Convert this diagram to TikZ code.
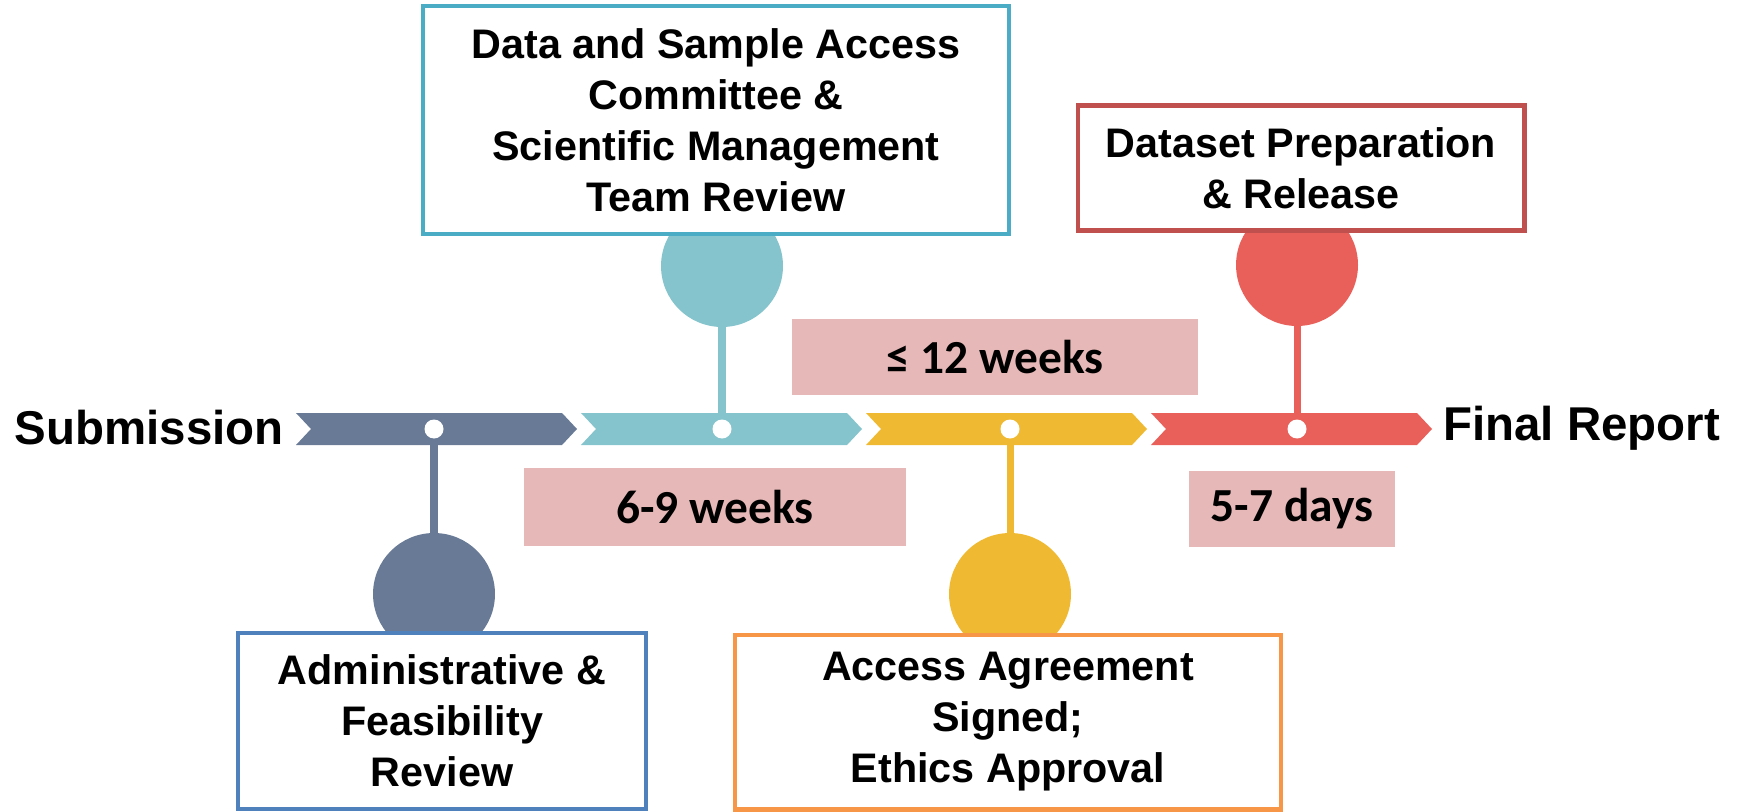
\documentclass[tikz,border=0pt]{standalone}
\usepackage{fontspec}
\setmainfont{Liberation Sans}
\newfontfamily\durfont{Carlito}
\usetikzlibrary{positioning}

\definecolor{slate}{HTML}{687A96}
\definecolor{teal}{HTML}{85C4CC}
\definecolor{amber}{HTML}{F0B932}
\definecolor{coral}{HTML}{E9605A}
\definecolor{boxblue}{HTML}{4F81BD}
\definecolor{boxteal}{HTML}{4BACC6}
\definecolor{boxorange}{HTML}{F79646}
\definecolor{boxred}{HTML}{C0504D}
\definecolor{durpink}{HTML}{E6B8B7}

\begin{document}
\begin{tikzpicture}[x=0.02cm,y=-0.02cm,
  stage/.style={draw=#1,line width=2.3pt,fill=white,align=center,inner sep=0pt,
    font=\bfseries\fontsize{23.5}{29}\selectfont},
  dur/.style={fill=durpink,inner sep=0pt,font=\durfont\bfseries\fontsize{27}{32}\selectfont},
  ball/.style={circle,fill=#1,minimum size=2.44cm,inner sep=0pt},
  stem/.style={draw=#1,line width=4pt},
  dot/.style={circle,fill=white,minimum size=0.38cm,inner sep=0pt},
  endlabel/.style={font=\bfseries\fontsize{27}{32}\selectfont,inner sep=0pt}]
  \useasboundingbox (0,0) rectangle (1743,811);

  % timeline bar
  \foreach \x/\c in {296/slate,581/teal,866/amber,1151/coral}
    \fill[\c] (\x,413) -- ++(266,0) -- ++(15,16) -- ++(-15,16) -- ++(-266,0) -- ++(15,-16) -- cycle;

  \node[endlabel,anchor=east] (sub) at (284,428) {Submission};
  \node[endlabel,anchor=west] (fin) at (1443,428) {Final Report};

  \node[dot] (d1) at (434,429) {};
  \node[dot] (d2) at (722,429) {};
  \node[dot] (d3) at (1010,429) {};
  \node[dot] (d4) at (1297,429) {};

  \node[ball=slate] (b1) at (434,594) {};
  \node[ball=teal]  (b2) at (722,266) {};
  \node[ball=amber] (b3) at (1010,594) {};
  \node[ball=coral] (b4) at (1297,265) {};

  \draw[stem=slate] (b1) -- (d1);
  \draw[stem=teal]  (b2) -- (d2);
  \draw[stem=amber] (b3) -- (d3);
  \draw[stem=coral] (b4) -- (d4);

  \node[stage=boxblue,minimum width=8.16cm,minimum height=3.52cm] (admin) at (442,721)
    {Administrative \&\\Feasibility\\Review};
  \node[stage=boxteal,minimum width=11.74cm,minimum height=4.56cm] (dsac) at (716,120)
    {Data and Sample Access\\Committee \&\\Scientific Management\\Team Review};
  \node[stage=boxorange,minimum width=10.92cm,minimum height=3.5cm] (agree) at (1008,722)
    {Access Agreement\\Signed;\\Ethics Approval};
  \node[stage=boxred,minimum width=8.94cm,minimum height=2.5cm] (release) at (1301,168)
    {Dataset Preparation\\\& Release};

  \node[dur,minimum width=7.64cm,minimum height=1.56cm] (t1) at (715,507) {6-9 weeks};
  \node[dur,minimum width=8.14cm,minimum height=1.54cm] (t2) at (995,357) {≤ 12 weeks};
  \node[dur,minimum width=4.12cm,minimum height=1.52cm] (t3) at (1292,509) {5-7 days};
\end{tikzpicture}
\end{document}
